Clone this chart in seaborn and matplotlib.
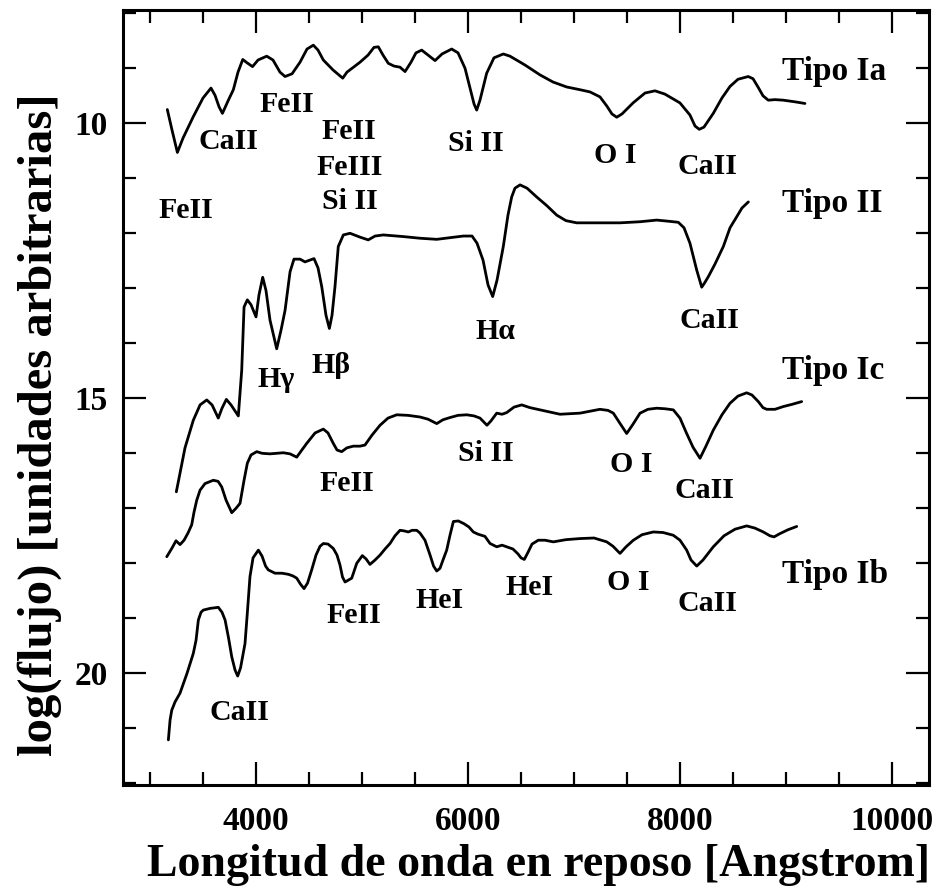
import pandas as pd
import matplotlib
matplotlib.use('Agg')
import matplotlib.pyplot as plt
import seaborn as sns
from matplotlib.ticker import MultipleLocator, FixedLocator

# espectros: longitud de onda [A] y log(flujo)
ia_wave = [3163, 3207, 3258, 3311, 3408, 3500, 3575, 3613, 3651, 3683, 3739, 3786, 3830, 3875, 3915, 3967, 4019, 4101, 4160, 4226,
           4274, 4340, 4415, 4481, 4541, 4585, 4635, 4726, 4818, 4858, 4906, 4981, 5057, 5113, 5154, 5198, 5248, 5302, 5358, 5406,
           5462, 5509, 5563, 5623, 5689, 5755, 5846, 5906, 5972, 6019, 6057, 6082, 6113, 6176, 6245, 6333, 6396, 6537, 6679, 6802,
           6931, 7057, 7151, 7245, 7311, 7358, 7403, 7453, 7557, 7670, 7764, 7858, 8000, 8094, 8142, 8182, 8226, 8314, 8396, 8472,
           8547, 8644, 8689, 8736, 8783, 8833, 8896, 8975, 9085, 9179]
ia_flux = [9.75, 10.12, 10.53, 10.27, 9.88, 9.54, 9.36, 9.49, 9.70, 9.82, 9.58, 9.39, 9.07, 8.84, 8.90, 8.97, 8.85, 8.78, 8.85, 9.07,
           9.15, 9.10, 8.89, 8.65, 8.58, 8.67, 8.85, 9.03, 9.18, 9.07, 9.00, 8.89, 8.76, 8.62, 8.61, 8.76, 8.91, 8.96, 8.98, 9.06,
           8.89, 8.72, 8.67, 8.76, 8.86, 8.74, 8.65, 8.72, 9.00, 9.36, 9.65, 9.76, 9.58, 9.09, 8.81, 8.74, 8.78, 8.94, 9.12, 9.25,
           9.34, 9.39, 9.43, 9.52, 9.69, 9.83, 9.89, 9.83, 9.63, 9.45, 9.41, 9.47, 9.63, 9.85, 10.05, 10.11, 10.07, 9.82, 9.54, 9.33,
           9.20, 9.15, 9.19, 9.34, 9.50, 9.58, 9.57, 9.58, 9.61, 9.64]

ii_wave = [3248, 3330, 3408, 3472, 3535, 3585, 3644, 3679, 3720, 3764, 3833, 3865, 3887, 3918, 3953, 4000, 4028, 4063, 4094, 4132,
           4195, 4236, 4274, 4321, 4358, 4415, 4462, 4547, 4585, 4620, 4660, 4692, 4717, 4745, 4776, 4824, 4887, 4981, 5059, 5123,
           5201, 5390, 5547, 5705, 5830, 5956, 6038, 6085, 6142, 6189, 6233, 6274, 6333, 6377, 6412, 6443, 6491, 6557, 6648, 6745,
           6837, 6924, 7025, 7245, 7434, 7623, 7780, 7887, 7984, 8038, 8094, 8158, 8205, 8236, 8267, 8330, 8409, 8472, 8535, 8585,
           8645]
ii_flux = [16.70, 15.90, 15.40, 15.12, 15.03, 15.12, 15.36, 15.18, 15.02, 15.12, 15.32, 14.49, 13.34, 13.21, 13.30, 13.52, 13.12, 12.80, 13.04, 13.58,
           14.10, 13.76, 13.40, 12.70, 12.47, 12.47, 12.52, 12.46, 12.63, 12.97, 13.49, 13.73, 13.49, 12.97, 12.24, 12.03, 12.00, 12.07, 12.12, 12.05,
           12.03, 12.06, 12.09, 12.11, 12.08, 12.05, 12.05, 12.18, 12.49, 12.94, 13.15, 12.85, 12.24, 11.67, 11.34, 11.18, 11.12, 11.18, 11.34, 11.50,
           11.67, 11.77, 11.81, 11.81, 11.81, 11.79, 11.76, 11.78, 11.80, 11.90, 12.18, 12.67, 12.98, 12.89, 12.79, 12.56, 12.24, 11.90, 11.70, 11.54,
           11.43]

ic_wave = [3158, 3208, 3245, 3283, 3321, 3358, 3393, 3415, 3441, 3472, 3519, 3597, 3642, 3676, 3717, 3771, 3811, 3849, 3887, 3918,
           3953, 4007, 4057, 4132, 4258, 4321, 4384, 4425, 4478, 4557, 4635, 4679, 4729, 4764, 4808, 4858, 4918, 4981, 5028, 5094,
           5170, 5245, 5327, 5434, 5547, 5623, 5705, 5764, 5830, 5906, 5988, 6057, 6113, 6179, 6217, 6271, 6321, 6365, 6434, 6507,
           6585, 6679, 6868, 7057, 7245, 7321, 7371, 7425, 7497, 7557, 7623, 7698, 7780, 7858, 7937, 8000, 8063, 8123, 8189, 8245,
           8314, 8396, 8472, 8547, 8629, 8679, 8739, 8783, 8818, 8896, 8975, 9057, 9148]
ic_flux = [17.88, 17.72, 17.59, 17.66, 17.58, 17.45, 17.30, 17.07, 16.85, 16.67, 16.55, 16.49, 16.51, 16.61, 16.85, 17.08, 17.00, 16.91, 16.49, 16.18,
           16.03, 15.97, 16.00, 16.01, 15.99, 16.01, 16.07, 15.96, 15.82, 15.63, 15.56, 15.63, 15.82, 15.94, 15.97, 15.90, 15.87, 15.87, 15.85, 15.67,
           15.49, 15.36, 15.30, 15.31, 15.34, 15.38, 15.46, 15.39, 15.35, 15.31, 15.30, 15.32, 15.36, 15.49, 15.41, 15.27, 15.29, 15.26, 15.16, 15.12,
           15.17, 15.21, 15.29, 15.27, 15.20, 15.22, 15.27, 15.43, 15.64, 15.47, 15.27, 15.20, 15.18, 15.19, 15.21, 15.36, 15.64, 15.89, 16.09, 15.87,
           15.58, 15.30, 15.09, 14.96, 14.90, 14.94, 15.06, 15.17, 15.20, 15.20, 15.15, 15.11, 15.06]

ib_wave = [3173, 3189, 3205, 3236, 3283, 3349, 3408, 3434, 3456, 3481, 3503, 3566, 3644, 3679, 3708, 3741, 3771, 3802, 3827, 3854,
           3896, 3920, 3943, 3972, 4022, 4057, 4090, 4116, 4179, 4245, 4305, 4349, 4384, 4420, 4453, 4486, 4525, 4566, 4604, 4635,
           4679, 4729, 4764, 4792, 4816, 4840, 4903, 4950, 5003, 5038, 5075, 5123, 5170, 5217, 5264, 5311, 5358, 5396, 5437, 5472,
           5516, 5547, 5594, 5642, 5675, 5705, 5736, 5764, 5799, 5830, 5862, 5909, 5962, 6009, 6050, 6094, 6160, 6208, 6271, 6321,
           6365, 6424, 6472, 6500, 6531, 6566, 6604, 6663, 6726, 6805, 6924, 7057, 7189, 7309, 7368, 7434, 7491, 7560, 7642, 7748,
           7840, 7937, 8000, 8063, 8104, 8158, 8217, 8314, 8415, 8519, 8629, 8707, 8786, 8849, 8887, 8943, 9019, 9101]
ib_flux = [21.21, 20.85, 20.67, 20.52, 20.36, 20.00, 19.64, 19.40, 19.03, 18.89, 18.85, 18.82, 18.80, 18.89, 19.03, 19.36, 19.70, 19.94, 20.05, 19.90,
           19.46, 18.85, 18.24, 17.90, 17.76, 17.87, 18.05, 18.12, 18.18, 18.18, 18.20, 18.23, 18.27, 18.38, 18.46, 18.36, 18.12, 17.85, 17.69, 17.64,
           17.65, 17.73, 17.85, 18.03, 18.25, 18.34, 18.27, 18.00, 17.86, 17.92, 18.02, 17.94, 17.85, 17.74, 17.64, 17.50, 17.40, 17.41, 17.43, 17.40,
           17.40, 17.45, 17.58, 17.85, 18.05, 18.14, 18.09, 17.94, 17.76, 17.49, 17.24, 17.23, 17.28, 17.34, 17.43, 17.47, 17.51, 17.64, 17.70, 17.67,
           17.70, 17.74, 17.83, 17.90, 17.93, 17.80, 17.65, 17.58, 17.58, 17.61, 17.57, 17.55, 17.54, 17.61, 17.69, 17.82, 17.70, 17.58, 17.48, 17.43,
           17.44, 17.49, 17.58, 17.76, 17.94, 18.05, 17.94, 17.70, 17.50, 17.38, 17.32, 17.36, 17.43, 17.50, 17.52, 17.46, 17.39, 17.33]

tipo_names = ['Tipo Ia', 'Tipo II', 'Tipo Ic', 'Tipo Ib']
tipo_x = [8960, 8960, 8960, 8960]
tipo_y = [9.05, 11.46, 14.49, 18.21]

# lineas espectrales
line_text = ['CaII', 'FeII', 'FeII', 'FeIII', 'Si II', 'FeII', 'Si II', 'O I', 'CaII',
             'H\u03b3', 'H\u03b2', 'H\u03b1', 'CaII',
             'FeII', 'Si II', 'O I', 'CaII',
             'FeII', 'HeI', 'HeI', 'O I', 'CaII', 'CaII']
line_x = [3739, 4290, 4871, 4887, 4887, 3340, 6075, 7392, 8260,
          4193, 4708, 6255, 8274,
          4856, 6170, 7538, 8226,
          4925, 5736, 6581, 7510, 8255, 3842]
line_y = [10.34, 9.65, 10.15, 10.81, 11.43, 11.59, 10.36, 10.58, 10.79,
          14.65, 14.40, 13.79, 13.58,
          16.55, 16.00, 16.21, 16.67,
          18.94, 18.67, 18.44, 18.35, 18.73, 20.71]

sns.set_style('ticks')
plt.rcParams['font.family'] = ['Liberation Serif', 'DejaVu Serif']
plt.rcParams['font.weight'] = 'bold'
plt.rcParams['text.color'] = 'black'
plt.rcParams['axes.labelcolor'] = 'black'
plt.rcParams['xtick.color'] = 'black'
plt.rcParams['ytick.color'] = 'black'

fig = plt.figure(figsize=(9.38, 8.9), dpi=100)
ax = fig.add_axes([0.1308, 0.1180, 0.8599, 0.8708])

waves = [ia_wave, ii_wave, ic_wave, ib_wave]
fluxes = [ia_flux, ii_flux, ic_flux, ib_flux]
frames = []
for name, w, f in zip(tipo_names, waves, fluxes):
    frames.append(pd.DataFrame({'wave': w, 'flux': f, 'tipo': name}))
df = pd.concat(frames, ignore_index=True)

sns.lineplot(data=df, x='wave', y='flux', units='tipo', estimator=None, sort=False,
             color='black', linewidth=2.0, solid_joinstyle='round', legend=False, ax=ax)

for s, x, y in zip(tipo_names, tipo_x, tipo_y):
    ax.text(x, y, s, ha='left', va='center', fontsize=24, fontweight='bold', color='black')
for s, x, y in zip(line_text, line_x, line_y):
    ax.text(x, y, s, ha='center', va='center', fontsize=21.5, fontweight='bold', color='black')

ax.set_xlim(2742, 10352)
ax.set_ylim(22.03, 7.94)
ax.xaxis.set_major_locator(FixedLocator([4000, 6000, 8000, 10000]))
ax.xaxis.set_minor_locator(MultipleLocator(500))
ax.yaxis.set_major_locator(FixedLocator([10, 15, 20]))
ax.yaxis.set_minor_locator(MultipleLocator(1))
ax.tick_params(which='both', direction='in', top=True, right=True, width=1.6, color='black', labelcolor='black')
ax.tick_params(which='major', length=16.5, labelsize=24)
ax.tick_params(axis='x', which='major', pad=15)
ax.tick_params(axis='y', which='major', pad=11)
ax.tick_params(which='minor', length=9.4)
for lab in ax.get_xticklabels() + ax.get_yticklabels():
    lab.set_fontweight('bold')
for sp in ax.spines.values():
    sp.set_linewidth(2.2)
    sp.set_color('black')

ax.set_xlabel('Longitud de onda en reposo [Angstrom]', fontsize=33, fontweight='bold', va='center', color='black')
ax.set_ylabel('log(flujo) [unidades arbitrarias]', fontsize=35, fontweight='bold', va='center', color='black')
ax.xaxis.set_label_coords(0.515, -0.103)
ax.yaxis.set_label_coords(-0.103, 0.465)

fig.savefig('out.png', dpi=100)
